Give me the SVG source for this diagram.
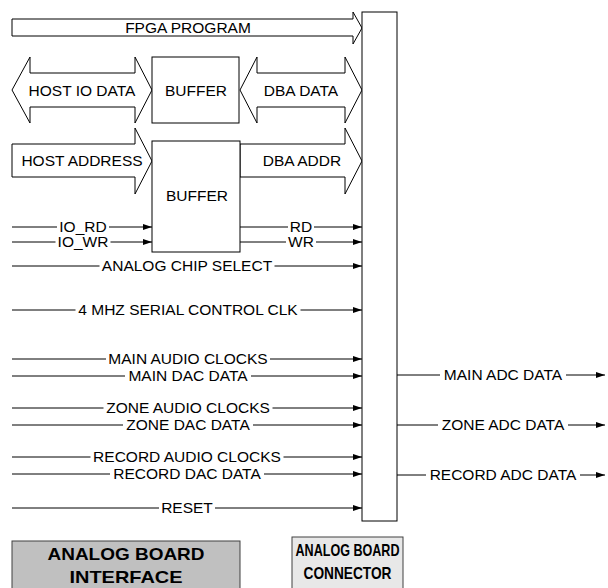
<svg xmlns="http://www.w3.org/2000/svg" width="608" height="588" viewBox="0 0 608 588">
<style>
.blk{fill:#fff;stroke:#000;stroke-width:1}
.t{font-family:"Liberation Sans",Arial,sans-serif;font-size:15.5px;fill:#000;text-anchor:middle}
.sg{stroke:#000;stroke-width:1;fill:none}
.ln{stroke:#000;stroke-width:1;fill:none;marker-end:url(#ah)}
.b{font-family:"Liberation Sans",Arial,sans-serif;font-weight:bold;fill:#000;text-anchor:middle}
</style>
<defs>
<marker id="ah" markerWidth="9" markerHeight="6" refX="9" refY="3" orient="auto" markerUnits="userSpaceOnUse">
<path d="M0,0 L9,3 L0,6 Z" fill="#000"/>
</marker>
</defs>
<rect width="608" height="588" fill="#fff"/>

<g id="connectors">
<polygon id="fpga-program" class="blk" points="12,19 353,19 353,12 362,28 353,44 353,36 12,36"/>
<polygon id="host-io-data" class="blk" points="12,90 30,57 30,73 135,73 135,57 152,90 135,123 135,107 30,107 30,123"/>
<polygon id="dba-data" class="blk" points="240,90 257,57 257,73 345,73 345,57 362,90 345,123 345,107 257,107 257,123"/>
<polygon id="host-address" class="blk" points="12,144 135,144 135,128 152,161 135,194 135,177 12,177"/>
<polygon id="dba-addr" class="blk" points="240,144 345,144 345,128 362,161 345,194 345,177 240,177"/>

<path class="sg" d="M12,227 H57"/><path class="ln" d="M109,227 H152"/>
<path class="sg" d="M12,242 H55.5"/><path class="ln" d="M110.5,242 H152"/>
<path class="sg" d="M240,227 H288"/><path class="ln" d="M314,227 H362"/>
<path class="sg" d="M240,242 H286"/><path class="ln" d="M316,242 H362"/>
<path class="sg" d="M12,266 H99.5"/><path class="ln" d="M274.5,266 H362"/>
<path class="sg" d="M12,310 H75.5"/><path class="ln" d="M300.5,310 H362"/>
<path class="sg" d="M12,359 H106"/><path class="ln" d="M270,359 H362"/>
<path class="sg" d="M12,376 H125"/><path class="ln" d="M251,376 H362"/>
<path class="sg" d="M12,408 H103.5"/><path class="ln" d="M272.5,408 H362"/>
<path class="sg" d="M12,425 H123"/><path class="ln" d="M253,425 H362"/>
<path class="sg" d="M12,457 H90.5"/><path class="ln" d="M283.5,457 H362"/>
<path class="sg" d="M12,474 H110"/><path class="ln" d="M264,474 H362"/>
<path class="sg" d="M12,508 H159"/><path class="ln" d="M215,508 H362"/>
<path class="sg" d="M397,375 H440"/><path class="ln" d="M566,375 H605"/>
<path class="sg" d="M397,425 H438"/><path class="ln" d="M568,425 H605"/>
<path class="sg" d="M397,475 H426"/><path class="ln" d="M580,475 H605"/>

<text class="t" x="188" y="33">FPGA PROGRAM</text>
<text class="t" x="82" y="96">HOST IO DATA</text>
<text class="t" x="301" y="96">DBA DATA</text>
<text class="t" x="82" y="166">HOST ADDRESS</text>
<text class="t" x="302" y="166">DBA ADDR</text>
<text class="t" x="83" y="232">IO_RD</text>
<text class="t" x="83" y="247">IO_WR</text>
<text class="t" x="301" y="232">RD</text>
<text class="t" x="301" y="247">WR</text>
<text class="t" x="187" y="271">ANALOG CHIP SELECT</text>
<text class="t" x="188" y="315">4 MHZ SERIAL CONTROL CLK</text>
<text class="t" x="188" y="364">MAIN AUDIO CLOCKS</text>
<text class="t" x="188" y="381">MAIN DAC DATA</text>
<text class="t" x="188" y="413">ZONE AUDIO CLOCKS</text>
<text class="t" x="188" y="430">ZONE DAC DATA</text>
<text class="t" x="187" y="462">RECORD AUDIO CLOCKS</text>
<text class="t" x="187" y="479">RECORD DAC DATA</text>
<text class="t" x="187" y="513">RESET</text>
<text class="t" x="503" y="380">MAIN ADC DATA</text>
<text class="t" x="503" y="430">ZONE ADC DATA</text>
<text class="t" x="503" y="480">RECORD ADC DATA</text>
</g>

<g id="buffer1">
<rect class="blk" x="152" y="57" width="87" height="66"/>
<text class="t" x="196" y="96">BUFFER</text>
</g>
<g id="buffer2">
<rect class="blk" x="152" y="141" width="88" height="111"/>
<text class="t" x="197" y="201">BUFFER</text>
</g>
<g id="connector">
<rect class="blk" x="362" y="12" width="35" height="509"/>
</g>
<g id="legend-interface">
<rect x="12" y="541" width="228" height="60" fill="#c0c0c0" stroke="#404040" stroke-width="1"/>
<text class="b" font-size="17" x="126" y="560" textLength="157" lengthAdjust="spacingAndGlyphs">ANALOG BOARD</text>
<text class="b" font-size="17" x="126" y="583" textLength="113" lengthAdjust="spacingAndGlyphs">INTERFACE</text>
</g>
<g id="legend-connector">
<rect x="292" y="537" width="111" height="60" fill="#e8e8e8" stroke="#404040" stroke-width="1"/>
<text class="b" font-size="17" x="347.5" y="556" textLength="104" lengthAdjust="spacingAndGlyphs">ANALOG BOARD</text>
<text class="b" font-size="17" x="347.5" y="579" textLength="88" lengthAdjust="spacingAndGlyphs">CONNECTOR</text>
</g>
</svg>
